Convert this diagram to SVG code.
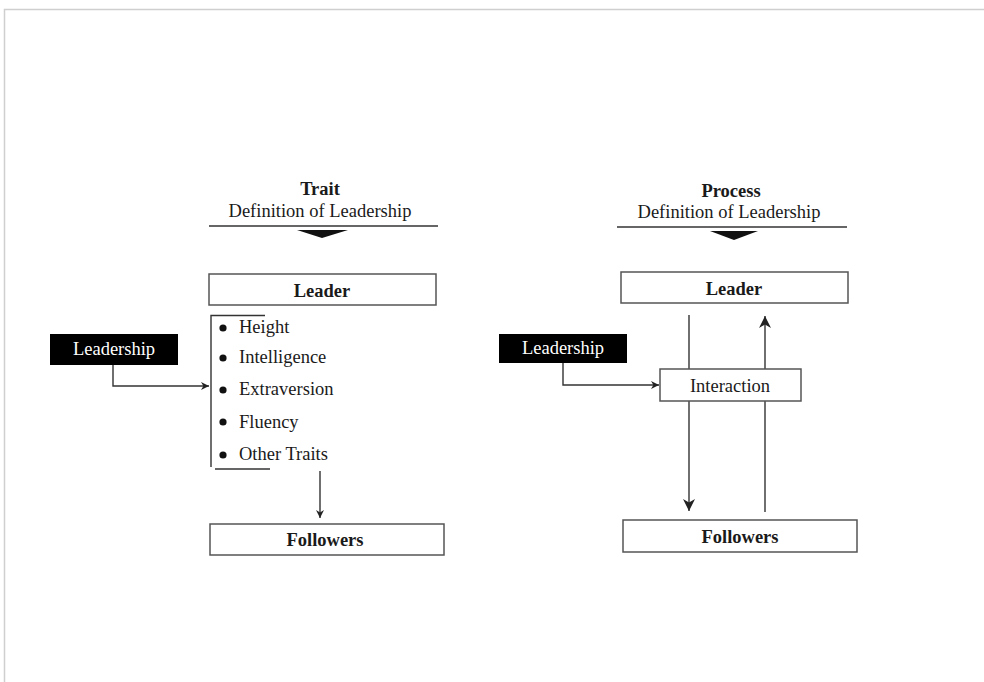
<svg xmlns="http://www.w3.org/2000/svg" width="984" height="682" viewBox="0 0 984 682">
<defs>
<marker id="ah" viewBox="0 0 10 10" refX="10" refY="5" markerWidth="8" markerHeight="8" markerUnits="userSpaceOnUse" orient="auto"><path d="M0,0 L10,5 L0,10 L3,5 z" fill="#222"/></marker>
<marker id="ahb" viewBox="0 0 10 10" refX="10" refY="5" markerWidth="12" markerHeight="12" markerUnits="userSpaceOnUse" orient="auto"><path d="M0,0 L10,5 L0,10 L3,5 z" fill="#222"/></marker>
</defs>
<style>
text{font-family:"Liberation Serif","Times New Roman",serif;fill:#1a1a1a;font-size:18.5px}
.b{font-weight:bold}
.c{text-anchor:middle}
.w{fill:#fff}
.box{fill:#fff;stroke:#555;stroke-width:1.5}
.blk{fill:#000}
.ln{stroke:#333;stroke-width:1.4;fill:none}
.dot{fill:#111}
</style>
<rect width="984" height="682" fill="#fff"/>
<path d="M4.5,682 V9.5 H984" fill="none" stroke="#cfcfcf" stroke-width="1.5"/>

<g id="trait-title">
<text class="b c" x="320" y="195" font-size="19">Trait</text>
<text class="c" x="320" y="217" font-size="19">Definition of Leadership</text>
<line class="ln" x1="209" y1="226" x2="438" y2="226"/>
<path d="M297,230 L348,230 L322,238 z" fill="#111"/>
</g>
<g id="trait-leader">
<rect class="box" x="209" y="274" width="227" height="31"/>
<text class="b c" x="322" y="297">Leader</text>
</g>
<g id="trait-leadership">
<rect class="blk" x="50" y="334" width="128" height="31"/>
<text class="w c" x="114" y="355">Leadership</text>
</g>
<g id="trait-list">
<path class="ln" d="M265,315.5 H211 V467"/>
<line class="ln" x1="215" y1="469" x2="270" y2="469"/>
<circle class="dot" cx="223" cy="328" r="3.6"/>
<circle class="dot" cx="223" cy="358" r="3.6"/>
<circle class="dot" cx="223" cy="390" r="3.6"/>
<circle class="dot" cx="223" cy="422" r="3.6"/>
<circle class="dot" cx="223" cy="455" r="3.6"/>
<text x="239" y="333">Height</text>
<text x="239" y="363">Intelligence</text>
<text x="239" y="395">Extraversion</text>
<text x="239" y="428">Fluency</text>
<text x="239" y="460">Other Traits</text>
</g>
<g id="trait-followers">
<rect class="box" x="210" y="524" width="234" height="31"/>
<text class="b c" x="325" y="546">Followers</text>
</g>

<g id="process-title">
<text class="b c" x="731" y="197" font-size="19">Process</text>
<text class="c" x="729" y="218" font-size="19">Definition of Leadership</text>
<line class="ln" x1="617" y1="227" x2="847" y2="227"/>
<path d="M710,231 L758,231 L734,240 z" fill="#111"/>
</g>
<g id="process-leader">
<rect class="box" x="621" y="272" width="227" height="31"/>
<text class="b c" x="734" y="295">Leader</text>
</g>
<g id="process-leadership">
<rect class="blk" x="499" y="334" width="128" height="29"/>
<text class="w c" x="563" y="354">Leadership</text>
</g>

<g id="connectors">
<path class="ln" d="M113,365 V386 H209" marker-end="url(#ah)"/>
<line class="ln" x1="320" y1="471" x2="320" y2="518" marker-end="url(#ah)"/>
<path class="ln" d="M563,363 V385 H659" marker-end="url(#ah)"/>
<line class="ln" x1="689" y1="315" x2="689" y2="511" marker-end="url(#ahb)"/>
<line class="ln" x1="765" y1="512" x2="765" y2="316" marker-end="url(#ahb)"/>
</g>

<g id="process-interaction">
<rect class="box" x="660" y="369" width="141" height="32"/>
<text class="c" x="730" y="392">Interaction</text>
</g>
<g id="process-followers">
<rect class="box" x="623" y="520" width="234" height="32"/>
<text class="b c" x="740" y="543">Followers</text>
</g>
</svg>
